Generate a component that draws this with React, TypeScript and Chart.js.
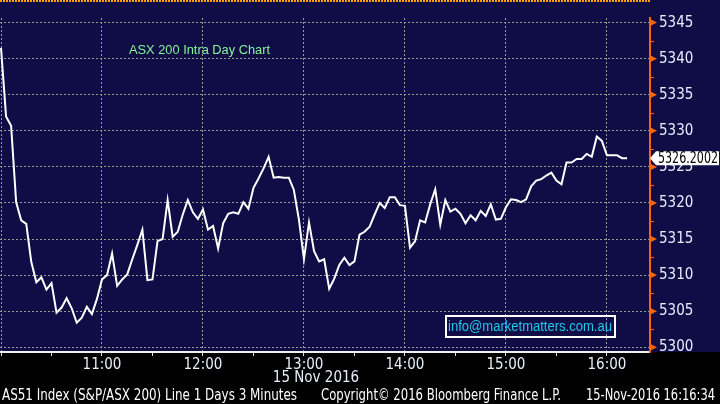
import React, { useEffect, useRef } from 'react';
import { Chart, registerables } from 'chart.js';

Chart.register(...registerables);

// ---- data ----
const barMinutes = 3; // one bar every 3 minutes from 10:00
const prices = [
  5341.5, 5332.0, 5330.7, 5320.1, 5317.6, 5317.1, 5311.8, 5309.0, 5309.7, 5308.0,
  5308.9, 5304.8, 5305.5, 5306.8, 5305.4, 5303.4, 5304.1, 5305.6, 5304.6, 5306.7,
  5309.4, 5310.0, 5313.0, 5308.5, 5309.4, 5310.1, 5312.2, 5314.2, 5316.3, 5309.3,
  5309.4, 5314.7, 5315.0, 5320.4, 5315.3, 5316.0, 5318.4, 5320.4, 5318.7, 5317.8,
  5319.1, 5316.3, 5316.8, 5313.7, 5317.2, 5318.5, 5318.7, 5318.5, 5320.1, 5319.2,
  5322.1, 5323.4, 5324.8, 5326.4, 5323.5, 5323.6, 5323.5, 5323.5, 5321.8, 5317.7,
  5312.2, 5317.3, 5313.3, 5311.9, 5312.2, 5308.1, 5309.5, 5311.4, 5312.4, 5311.4,
  5311.9, 5315.6, 5316.0, 5316.7, 5318.4, 5320.0, 5319.3, 5320.8, 5320.8, 5319.7,
  5319.6, 5313.8, 5314.7, 5317.6, 5317.3, 5319.8, 5321.9, 5317.0, 5320.4, 5318.8,
  5319.2, 5318.5, 5317.2, 5318.3, 5317.6, 5318.9, 5318.2, 5319.8, 5317.7, 5317.8,
  5319.4, 5320.5, 5320.4, 5320.1, 5320.5, 5322.3, 5323.1, 5323.3, 5323.8, 5324.2,
  5323.1, 5322.6, 5325.6, 5325.6, 5326.1, 5326.1, 5326.8, 5326.4, 5329.2, 5328.6,
  5326.6, 5326.6, 5326.6, 5326.2, 5326.2,
];
const xTickMinutes = [0, 30, 60, 90, 120, 150, 180, 210, 240, 270, 300, 330, 360];
const xTickLabels = ['', '', '11:00', '', '12:00', '', '13:00', '', '14:00', '', '15:00', '', '16:00'];
const yMajorTicks = [5300, 5305, 5310, 5315, 5320, 5325, 5330, 5335, 5340, 5345];
const yMinorTicks = [5302.5, 5307.5, 5312.5, 5317.5, 5322.5, 5327.5, 5332.5, 5337.5, 5342.5];
const xRange = [-0.6, 385.6];
const yRange = [5299.34, 5345.64];
const lastValueLabel = '5326.2002';
const lastValue = 5326.2002;
const chartTitle = 'ASX 200 Intra Day Chart';
const dateLabel = '15 Nov 2016';
const contactText = 'info@marketmatters.com.au';
const footerLeft = 'AS51 Index (S&P/ASX 200) Line 1 Days 3 Minutes';
const footerMid = 'Copyright\u00a9 2016 Bloomberg Finance L.P.';
const footerRight = '15-Nov-2016 16:16:34';

// ---- styles ----
const NAVY = '#0f0c46';
const GRID = '#9a9a96';
const ORANGE = '#ff6400';
const LABEL = '#e6eefc';
const NARROW = '"Liberation Sans Narrow", "DejaVu Sans Condensed", "Roboto Condensed", "Liberation Sans", sans-serif';
const SANS = '"Liberation Sans", Arial, sans-serif';

const decorations = {
  id: 'bbgDecor',
  beforeDraw(chart: any) {
    const { ctx, chartArea, width, height } = chart;
    ctx.save();
    ctx.fillStyle = '#000000';
    ctx.fillRect(0, 0, width, height);
    ctx.fillStyle = NAVY;
    ctx.fillRect(0, 0, width, chartArea.bottom);
    ctx.restore();
  },
  afterDraw(chart: any) {
    const { ctx, chartArea } = chart;
    const yScale = chart.scales.y;
    ctx.save();
    // top dotted orange border
    ctx.strokeStyle = '#ffa200';
    ctx.lineWidth = 2;
    ctx.setLineDash([2, 1]);
    ctx.beginPath();
    ctx.moveTo(chartArea.left, 1);
    ctx.lineTo(chartArea.right, 1);
    ctx.stroke();
    ctx.setLineDash([]);
    // right axis tick markers
    ctx.fillStyle = ORANGE;
    ctx.strokeStyle = ORANGE;
    ctx.lineWidth = 1;
    const ax = chartArea.right;
    yMajorTicks.forEach((v) => {
      const y = yScale.getPixelForValue(v);
      ctx.beginPath();
      ctx.moveTo(ax, y - 3.5);
      ctx.lineTo(ax + 7, y);
      ctx.lineTo(ax, y + 3.5);
      ctx.closePath();
      ctx.fill();
    });
    yMinorTicks.forEach((v) => {
      const y = Math.round(yScale.getPixelForValue(v)) + 0.5;
      ctx.beginPath();
      ctx.moveTo(ax, y);
      ctx.lineTo(ax + 4, y);
      ctx.stroke();
    });
    // last value label
    const ly = yScale.getPixelForValue(lastValue);
    ctx.fillStyle = '#ffffff';
    ctx.beginPath();
    ctx.moveTo(ax, ly);
    ctx.lineTo(ax + 6, ly - 7);
    ctx.lineTo(719, ly - 7);
    ctx.lineTo(719, ly + 7);
    ctx.lineTo(ax + 6, ly + 7);
    ctx.closePath();
    ctx.fill();
    ctx.fillStyle = '#000000';
    ctx.font = `15px ${NARROW}`;
    ctx.textAlign = 'left';
    ctx.textBaseline = 'middle';
    ctx.fillText(lastValueLabel, 658, ly + 0.5, 60);
    // title
    ctx.fillStyle = '#86f59a';
    ctx.font = `13px ${SANS}`;
    ctx.fillText(chartTitle, 129, 50, 141);
    // contact box
    ctx.strokeStyle = '#ffffff';
    ctx.lineWidth = 2;
    ctx.strokeRect(446, 316, 169, 21);
    ctx.fillStyle = '#22c8e8';
    ctx.font = `14px ${SANS}`;
    ctx.fillText(contactText, 448, 327, 164);
    // date under axis
    ctx.fillStyle = LABEL;
    ctx.font = `15px ${NARROW}`;
    ctx.textAlign = 'center';
    ctx.fillText(dateLabel, 316, 378);
    // footer
    ctx.fillStyle = '#ffffff';
    ctx.textAlign = 'left';
    ctx.fillText(footerLeft, 2, 396, 295);
    ctx.fillText(footerMid, 321, 396, 240);
    ctx.fillText(footerRight, 586, 396, 129);
    ctx.restore();
  },
};

export default function App() {
  const canvasRef = useRef<HTMLCanvasElement | null>(null);

  useEffect(() => {
    document.body.style.margin = '0';
    const canvas = canvasRef.current;
    if (!canvas) return;
    const data = prices.map((p, i) => ({ x: i * barMinutes, y: p }));
    const chart = new Chart(canvas, {
      type: 'line',
      data: {
        datasets: [
          {
            data,
            borderColor: '#ffffff',
            borderWidth: 2,
            pointRadius: 0,
            tension: 0,
            fill: false,
          },
        ],
      },
      options: {
        responsive: false,
        animation: false,
        events: [],
        layout: { padding: { top: 1, left: 0, right: 0, bottom: 0 } },
        plugins: { legend: { display: false }, tooltip: { enabled: false }, title: { display: false } },
        scales: {
          x: {
            type: 'linear',
            position: 'bottom',
            min: xRange[0],
            max: xRange[1],
            afterBuildTicks: (scale: any) => {
              scale.ticks = xTickMinutes.map((v) => ({ value: v }));
            },
            afterFit: (scale: any) => {
              scale.height = 52;
            },
            ticks: {
              autoSkip: false,
              maxRotation: 0,
              padding: 0,
              color: LABEL,
              font: { family: NARROW, size: 15 },
              callback: (_v: any, i: number) => xTickLabels[i],
            },
            grid: {
              color: (c: any) => (c.tick && c.tick.value % 60 === 0 ? GRID : 'rgba(0,0,0,0)'),
              lineWidth: 1,
              drawTicks: true,
              tickLength: 4,
              tickColor: '#e0e0e0',
              tickWidth: 1,
            },
            border: { display: true, color: '#f0f0f0', width: 2, dash: [2, 2] },
          },
          y: {
            type: 'linear',
            position: 'right',
            min: yRange[0],
            max: yRange[1],
            afterBuildTicks: (scale: any) => {
              scale.ticks = [...yMajorTicks, ...yMinorTicks]
                .sort((a, b) => a - b)
                .map((v) => ({ value: v }));
            },
            afterFit: (scale: any) => {
              scale.width = 70;
            },
            ticks: {
              autoSkip: false,
              padding: 9,
              color: LABEL,
              font: { family: NARROW, size: 15 },
              callback: (v: any) => (yMajorTicks.includes(v) ? String(v) : ''),
            },
            grid: {
              color: (c: any) => (c.tick && yMajorTicks.includes(c.tick.value) ? GRID : 'rgba(0,0,0,0)'),
              lineWidth: 1,
              drawTicks: false,
            },
            border: { display: true, color: ORANGE, width: 2, dash: [2, 2] },
          },
        },
      },
      plugins: [decorations],
    });
    return () => chart.destroy();
  }, []);

  return (
    <div style={{ width: 720, height: 404 }}>
      <canvas ref={canvasRef} width={720} height={404} style={{ display: 'block' }} />
    </div>
  );
}
